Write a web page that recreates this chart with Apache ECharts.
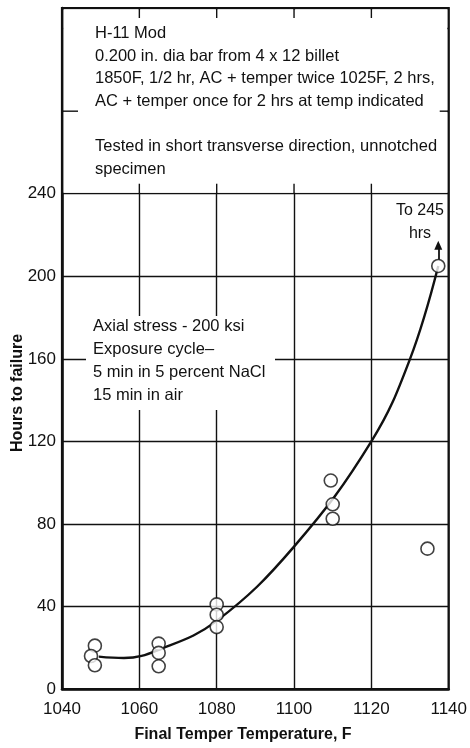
<!DOCTYPE html>
<html>
<head>
<meta charset="utf-8">
<script src="https://cdn.jsdelivr.net/npm/echarts@6/dist/echarts.min.js"></script>
<style>
  html, body { margin: 0; padding: 0; background: #fff; }
  #chart { width: 470px; height: 748px; }
</style>
</head>
<body>
<div id="chart"></div>
<script>
// Stress-corrosion results for H-11 Mod: hours to failure vs final temper temperature
const xTicks = [1040, 1060, 1080, 1100, 1120, 1140];
const yTicks = [0, 40, 80, 120, 160, 200, 240];

// individual specimens (temperature in F, hours to failure)
const specimenTemp  = [1048.5, 1047.5, 1048.5, 1065, 1065, 1065, 1080, 1080, 1080, 1109.5, 1110, 1110, 1134.5];
const specimenHours = [21, 16, 11.5, 22, 17.5, 11, 41, 36, 30, 101, 89.5, 82.5, 68];

// specimen that ran to 245 hrs
const runoutTemp  = [1137.3];
const runoutHours = [205];

// faired trend curve
const curveTemp  = [1049.5, 1056, 1065, 1080, 1100, 1120, 1130, 1137.3];
const curveHours = [15.7, 15, 19, 33, 69, 120, 160, 205];

const headerLines = [
  'H-11 Mod',
  '0.200 in. dia bar from 4 x 12 billet',
  '1850F, 1/2 hr, AC + temper twice 1025F, 2 hrs,',
  'AC + temper once for 2 hrs at temp indicated',
  '',
  'Tested in short transverse direction, unnotched',
  'specimen'
];
const exposureLines = [
  'Axial stress - 200 ksi',
  'Exposure cycle\u2013',
  '5 min in 5 percent NaCl',
  '15 min in air'
];
const runoutNote = ['To 245', 'hrs'];

const FONT = '"Liberation Sans", Arial, sans-serif';
const INK = '#111';

const chart = echarts.init(document.getElementById('chart'), null, { renderer: 'canvas' });

const zip = (a, b) => a.map((v, i) => [v, b[i]]);

chart.setOption({
  animation: false,
  backgroundColor: '#fff',
  grid: {
    left: 62, right: 16, top: 8, bottom: 59,
    show: true, borderColor: INK, borderWidth: 2.2, backgroundColor: 'transparent'
  },
  xAxis: {
    type: 'value', min: 1040, max: 1140, interval: 20,
    axisLine: { show: true, lineStyle: { color: INK, width: 2.5 } },
    axisTick: { show: false },
    splitLine: { show: true, lineStyle: { color: INK, width: 1.4 } },
    axisLabel: {
      margin: 12, color: INK, fontFamily: FONT, fontSize: 17,
      formatter: v => xTicks.includes(v) ? String(v) : ''
    }
  },
  yAxis: {
    type: 'value', min: 0, max: 330, interval: 40,
    axisLine: { show: true, lineStyle: { color: INK, width: 2.5 } },
    axisTick: { show: false },
    splitLine: { show: true, lineStyle: { color: INK, width: 1.4 } },
    axisLabel: {
      margin: 6, color: INK, fontFamily: FONT, fontSize: 17,
      formatter: v => yTicks.includes(v) ? String(v) : ''
    }
  },
  series: [
    {
      type: 'line', z: 5,
      data: zip(curveTemp, curveHours),
      smooth: 0.4, symbol: 'none',
      lineStyle: { color: INK, width: 2.4 }
    },
    {
      type: 'scatter', z: 6,
      data: zip(specimenTemp, specimenHours),
      symbol: 'circle', symbolSize: 13,
      itemStyle: { color: '#fff', borderColor: INK, borderWidth: 1.6 }
    },
    {
      type: 'scatter', z: 6,
      data: zip(runoutTemp, runoutHours),
      symbol: 'circle', symbolSize: 13,
      itemStyle: { color: '#fff', borderColor: INK, borderWidth: 1.6 },
      markLine: {
        silent: true, symbol: ['none', 'triangle'], symbolSize: [8, 9],
        label: { show: false },
        lineStyle: { color: INK, width: 1.8, type: 'solid' },
        data: [[
          { coord: [runoutTemp[0], runoutHours[0] + 3] },
          { coord: [runoutTemp[0], runoutHours[0] + 10] }
        ]]
      }
    }
  ]
});

// Annotation layer: header box over the upper grid, notes and axis titles
function px(x, y) { return chart.convertToPixel({ gridIndex: 0 }, [x, y]); }

const topLeft = px(1040, 330);
const botRight = px(1140, 240);
const g = [];

// white header box above the 240 line
g.push({
  type: 'rect', z: 3,
  shape: { x: topLeft[0] + 1.5, y: topLeft[1] + 1.5, width: botRight[0] - topLeft[0] - 3, height: botRight[1] - topLeft[1] - 2.5 },
  style: { fill: '#fff' }
});
// short grid stubs visible around the header box
[1060, 1080, 1100, 1120].forEach(t => {
  const a = px(t, 330), b = px(t, 240);
  g.push({ type: 'line', z: 4, shape: { x1: a[0], y1: a[1], x2: a[0], y2: a[1] + 10 }, style: { stroke: INK, lineWidth: 1.4 } });
  g.push({ type: 'line', z: 4, shape: { x1: b[0], y1: b[1] - 10, x2: b[0], y2: b[1] }, style: { stroke: INK, lineWidth: 1.4 } });
});
{
  const l = px(1040, 280), r = px(1140, 280);
  g.push({ type: 'line', z: 4, shape: { x1: l[0], y1: l[1], x2: l[0] + 16, y2: l[1] }, style: { stroke: INK, lineWidth: 1.4 } });
  g.push({ type: 'line', z: 4, shape: { x1: r[0] - 9, y1: r[1], x2: r[0], y2: r[1] }, style: { stroke: INK, lineWidth: 1.4 } });
}

// header text
headerLines.forEach((t, i) => {
  if (!t) return;
  g.push({
    type: 'text', z: 7, left: 95, top: 25 + i * 22.6,
    style: { text: t, fill: INK, font: '16.5px ' + FONT }
  });
});

// exposure note with a white backing
g.push({ type: 'rect', z: 3, shape: { x: 86, y: 316, width: 189, height: 94 }, style: { fill: '#fff' } });
exposureLines.forEach((t, i) => {
  g.push({
    type: 'text', z: 7, left: 93, top: 318 + i * 23,
    style: { text: t, fill: INK, font: '16.5px ' + FONT }
  });
});

// "To 245 hrs" note
runoutNote.forEach((t, i) => {
  g.push({
    type: 'text', z: 7, x: 420, y: 211 + i * 23,
    style: { text: t, fill: INK, font: '16px ' + FONT, align: 'center', verticalAlign: 'middle' }
  });
});

// axis titles
g.push({
  type: 'text', z: 7, x: 18, y: 393, rotation: Math.PI / 2,
  style: { text: 'Hours to failure', fill: INK, font: 'bold 16px ' + FONT, align: 'center', verticalAlign: 'middle' }
});
g.push({
  type: 'text', z: 7, x: 243, y: 735,
  style: { text: 'Final Temper Temperature, F', fill: INK, font: 'bold 16px ' + FONT, align: 'center', verticalAlign: 'middle' }
});

chart.setOption({ graphic: { elements: g } });
</script>
</body>
</html>
